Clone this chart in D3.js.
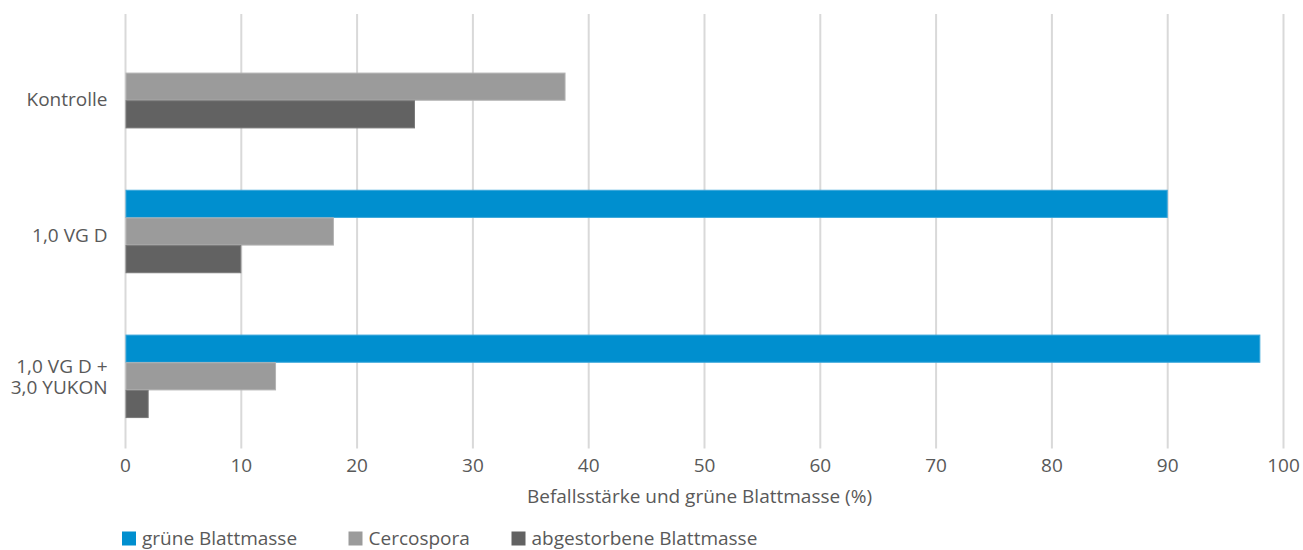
<!DOCTYPE html>
<html>
<head>
<meta charset="utf-8">
<script src="https://cdn.jsdelivr.net/npm/d3@7"></script>
<style>
  html, body { margin: 0; padding: 0; background: #ffffff; }
  svg { display: block; font-family: "Open Sans", "Noto Sans", sans-serif; }
</style>
</head>
<body>
<svg id="chart" width="1303" height="550"></svg>
<script>
// ---- data ----
const categories = ["Kontrolle", "1,0 VG D", "1,0 VG D + 3,0 YUKON"];
const categoryLines = [["Kontrolle"], ["1,0 VG D"], ["1,0 VG D +", "3,0 YUKON"]];
const seriesNames = ["grüne Blattmasse", "Cercospora", "abgestorbene Blattmasse"];
const grueneBlattmasse = [0, 90, 98];
const cercospora = [38, 18, 13];
const abgestorbeneBlattmasse = [25, 10, 2];
const xTicks = [0, 10, 20, 30, 40, 50, 60, 70, 80, 90, 100];
const xAxisTitle = "Befallsstärke und grüne Blattmasse (%)";

// ---- layout ----
const colors = ["#008fcf", "#9b9b9b", "#626262"];
const strokes = ["#3aa6da", "#b4b4b4", "#7a7a7a"];
const textColor = "#595959";
const fontSize = 19;
const plotLeft = 125, plotRight = 1283, plotTop = 14, plotBottom = 448.5;

const svg = d3.select("#chart");
const x = d3.scaleLinear().domain([0, 100]).range([plotLeft, plotRight]);
const y = d3.scaleBand().domain(categories).range([plotTop, plotBottom])
  .paddingInner(0.427).paddingOuter(0.2135);
const ySub = d3.scaleBand().domain(seriesNames).range([0, y.bandwidth()]);

const seriesData = [grueneBlattmasse, cercospora, abgestorbeneBlattmasse];

// gridlines + ticks via axis
const xAxis = d3.axisBottom(x).tickValues(xTicks).tickSizeInner(-(plotBottom - plotTop)).tickSizeOuter(0).tickPadding(10);
const gx = svg.append("g").attr("transform", `translate(0,${plotBottom})`).call(xAxis);
gx.select(".domain").remove();
gx.selectAll(".tick line").attr("stroke", "#d9d9d9").attr("stroke-width", 2);
gx.selectAll(".tick text")
  .attr("fill", textColor)
  .attr("font-size", fontSize)
  .attr("font-family", "Open Sans, Noto Sans, sans-serif")
  .attr("dy", null)
  .attr("y", 23.5);

// bars
seriesNames.forEach((s, si) => {
  svg.append("g").selectAll("rect")
    .data(categories.map((c, ci) => ({ c, v: seriesData[si][ci] })).filter(d => d.v > 0))
    .join("rect")
    .attr("x", x(0) + 1)
    .attr("y", d => y(d.c) + ySub(s) + 0.5)
    .attr("width", d => x(d.v) - x(0) - 1)
    .attr("height", ySub.bandwidth() - 0.5)
    .attr("fill", colors[si])
    .attr("stroke", strokes[si])
    .attr("stroke-width", 1);
});

// category labels
const labelShift = [12.5, 3.5, 1];
const lineH = 21;
categories.forEach((c, ci) => {
  const lines = categoryLines[ci];
  const cy = y(c) + y.bandwidth() / 2 + labelShift[ci];
  lines.forEach((ln, li) => {
    svg.append("text")
      .attr("x", 107.5)
      .attr("y", cy + (li - (lines.length - 1) / 2) * lineH)
      .attr("dy", "0.36em")
      .attr("text-anchor", "end")
      .attr("fill", textColor)
      .attr("font-size", fontSize)
      .text(ln);
  });
});

// axis title
svg.append("text")
  .attr("x", 699.5)
  .attr("y", 503)
  .attr("text-anchor", "middle")
  .attr("fill", textColor)
  .attr("font-size", fontSize)
  .text(xAxisTitle);

// legend
const legendX = [122, 348.5, 511.5];
seriesNames.forEach((s, si) => {
  const g = svg.append("g").attr("transform", `translate(${legendX[si]},531.5)`);
  g.append("rect").attr("width", 14).attr("height", 14).attr("fill", colors[si]);
  g.append("text").attr("x", 20).attr("y", 13.5)
    .attr("fill", textColor).attr("font-size", fontSize).text(s);
});
</script>
</body>
</html>
